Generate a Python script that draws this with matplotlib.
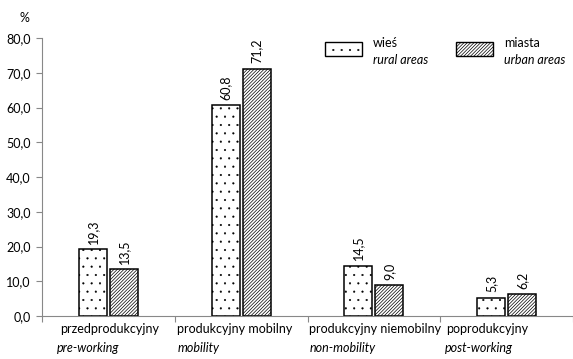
import numpy as np
import matplotlib.pyplot as plt
from matplotlib.patches import Rectangle

plt.rcParams["font.family"] = ["Lato", "DejaVu Sans"]
plt.rcParams["hatch.linewidth"] = 0.5

categories_pl = ["przedprodukcyjny", "produkcyjny mobilny", "produkcyjny niemobilny", "poprodukcyjny"]
categories_en = ["pre-working", "mobility", "non-mobility", "post-working"]
rural = [19.3, 60.8, 14.5, 5.3]
urban = [13.5, 71.2, 9.0, 6.2]
yticks = [0, 10, 20, 30, 40, 50, 60, 70, 80]

# left edge of each two-line category label, relative to category centre
label_left_pl = [-0.36, -0.48, -0.485, -0.455]
label_left_en = [-0.385, -0.48, -0.485, -0.465]

DOTS = ".."
LINES = "//////////"


def fmt(v):
    return f"{v:.1f}".replace(".", ",")


def thin_hatch(patch, lw):
    if hasattr(patch, "set_hatch_linewidth"):
        patch.set_hatch_linewidth(lw)


def main():
    fig = plt.figure(figsize=(5.73, 3.59), dpi=100)
    ax = fig.add_axes([0.0733, 0.1198, 0.9267, 0.7742])

    x = np.arange(len(rural))
    w = 0.21
    off = 0.117
    b1 = ax.bar(x - off, rural, w, facecolor="white", edgecolor="black", hatch=DOTS, linewidth=1.1)
    b2 = ax.bar(x + off, urban, w, facecolor="white", edgecolor="black", hatch=LINES, linewidth=1.1)
    for p in b1:
        thin_hatch(p, 0.3)
    for p in b2:
        thin_hatch(p, 0.5)

    for xi, v in zip(x - off, rural):
        ax.text(xi, v + 1.5, fmt(v), rotation=90, ha="center", va="bottom", fontsize=9)
    for xi, v in zip(x + off, urban):
        ax.text(xi, v + 1.5, fmt(v), rotation=90, ha="center", va="bottom", fontsize=9)

    ax.set_xlim(-0.5, len(rural) - 0.5)
    ax.set_ylim(0, 80)
    ax.set_yticks(yticks)
    ax.set_yticklabels([fmt(v) for v in yticks], fontsize=9)
    ax.set_xticks(np.arange(len(rural) + 1) - 0.5)
    ax.set_xticklabels([])
    ax.tick_params(axis="both", color="#888888", length=4, width=0.8)
    ax.tick_params(axis="y", pad=4)
    for s in ["top", "right"]:
        ax.spines[s].set_visible(False)
    for s in ["left", "bottom"]:
        ax.spines[s].set_color("#888888")
        ax.spines[s].set_linewidth(0.8)

    trans = ax.get_xaxis_transform()
    for i, (pl, en) in enumerate(zip(categories_pl, categories_en)):
        ax.text(i + label_left_pl[i], -0.025, pl, transform=trans, ha="left", va="top", fontsize=9)
        ax.text(i + label_left_en[i], -0.095, en, transform=trans, ha="left", va="top",
                fontsize=9, style="italic")

    fig.text(20 / 573, 1 - 18 / 359, "%", ha="left", va="center", fontsize=9)

    # legend
    for px, hatch, hlw, top, bottom in [(325, DOTS, 0.3, "wieś", "rural areas"),
                                        (456, LINES, 0.5, "miasta", "urban areas")]:
        r = Rectangle((px / 573, 1 - 56 / 359), 37 / 573, 14 / 359,
                      transform=fig.transFigure, facecolor="white",
                      edgecolor="black", hatch=hatch, linewidth=1.0)
        thin_hatch(r, hlw)
        fig.patches.append(r)
        fig.text((px + 48) / 573, 1 - 43 / 359, top, ha="left", va="center", fontsize=9)
        fig.text((px + 48) / 573, 1 - 60 / 359, bottom, ha="left", va="center",
                 fontsize=9, style="italic")

    fig.savefig("out.png", dpi=100)
    plt.close(fig)


if __name__ == "__main__":
    main()
